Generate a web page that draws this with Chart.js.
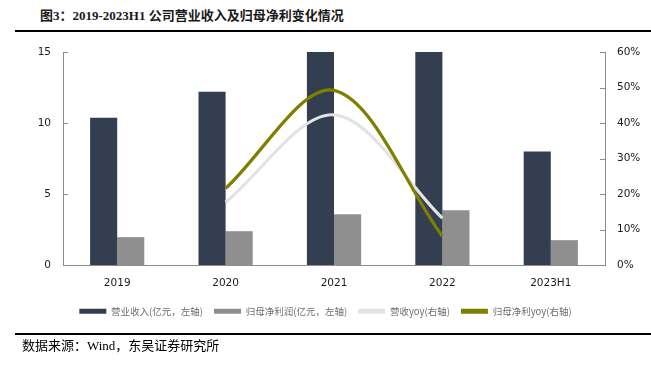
<!DOCTYPE html>
<html>
<head>
<meta charset="utf-8">
<script src="https://cdn.jsdelivr.net/npm/chart.js@4"></script>
<style>
  html, body { margin: 0; padding: 0; background: #fff; }
  #wrap { position: relative; width: 651px; height: 371px; overflow: hidden; }
  #title { position: absolute; left: 40px; top: 5px; font: bold 13px "Liberation Serif", "Noto Sans CJK SC", serif; color: #1a1a1a; white-space: nowrap; }
  #line1 { position: absolute; left: 15px; right: 0; top: 30px; height: 2px; background: #000; }
  #line2 { position: absolute; left: 15px; right: 0; top: 333px; height: 2px; background: #000; }
  #foot { position: absolute; left: 22px; top: 335px; font: 13px "Liberation Serif", "Noto Sans CJK SC", serif; color: #000; white-space: nowrap; }
  canvas { position: absolute; left: 0; top: 0; }
</style>
</head>
<body>
<div id="wrap">
  <div id="title">图3：2019-2023H1 公司营业收入及归母净利变化情况</div>
  <div id="line1"></div>
  <canvas id="c" width="651" height="371"></canvas>
  <div id="line2"></div>
  <div id="foot">数据来源：Wind，东吴证券研究所</div>
</div>
<script>
const categories = ['2019', '2020', '2021', '2022', '2023H1'];
const revenue = [10.37, 12.2, 17.3, 19.6, 7.99];
const netProfit = [1.96, 2.38, 3.57, 3.85, 1.75];
const revenueYoy = [null, 17.7, 42.3, 13.2, null];
const netProfitYoy = [null, 21.6, 49.2, 8.1, null];
const leftTicks = [0, 5, 10, 15];
const rightTicks = [0, 10, 20, 30, 40, 50, 60];
const seriesNames = ['营业收入(亿元，左轴)', '归母净利润(亿元，左轴)', '营收yoy(右轴)', '归母净利yoy(右轴)'];

const axisColor = '#8c8c8c';
const tickFont = { family: '"DejaVu Sans", sans-serif', size: 10.5 };

const innerTicks = {
  id: 'innerTicks',
  afterDraw(chart) {
    const ctx = chart.ctx;
    ctx.save();
    ctx.strokeStyle = axisColor;
    ctx.lineWidth = 1;
    [['y', leftTicks, 1], ['y1', rightTicks, -1]].forEach(([id, vals, dir]) => {
      const s = chart.scales[id];
      const x = id === 'y' ? s.right : s.left;
      vals.forEach(v => {
        const y = Math.round(s.getPixelForValue(v)) + 0.5;
        ctx.beginPath();
        ctx.moveTo(x, y);
        ctx.lineTo(x + dir * 5, y);
        ctx.stroke();
      });
    });
    ctx.restore();
  }
};

new Chart(document.getElementById('c'), {
  data: {
    labels: categories,
    datasets: [
      { type: 'bar', label: seriesNames[0], data: revenue, backgroundColor: '#333f50', yAxisID: 'y', order: 2, categoryPercentage: 0.5, barPercentage: 1.0 },
      { type: 'bar', label: seriesNames[1], data: netProfit, backgroundColor: '#8f8f8f', yAxisID: 'y', order: 2, categoryPercentage: 0.5, barPercentage: 1.0 },
      { type: 'line', label: seriesNames[2], data: revenueYoy, borderColor: '#e3e3e3', backgroundColor: '#e3e3e3', borderWidth: 3.2, pointRadius: 0, tension: 0.33, yAxisID: 'y1', order: 1 },
      { type: 'line', label: seriesNames[3], data: netProfitYoy, borderColor: '#7f7f00', backgroundColor: '#7f7f00', borderWidth: 3.2, pointRadius: 0, tension: 0.33, yAxisID: 'y1', order: 0 }
    ]
  },
  options: {
    responsive: false,
    animation: false,
    layout: { padding: { top: 52, left: 0, right: 0, bottom: 45 } },
    scales: {
      x: {
        grid: { display: false, drawTicks: false },
        border: { display: true, color: axisColor, width: 1 },
        ticks: { font: tickFont, color: '#1a1a1a', padding: 12 },
        afterFit(s) { s.height = 30.5; }
      },
      y: {
        position: 'left', min: 0, max: 15,
        afterBuildTicks(s) { s.ticks = leftTicks.map(v => ({ value: v })); },
        grid: { display: false, drawTicks: false },
        border: { display: true, color: axisColor, width: 1 },
        ticks: { font: tickFont, color: '#1a1a1a', padding: 12 },
        afterFit(s) { s.width = 63; }
      },
      y1: {
        position: 'right', min: 0, max: 60,
        afterBuildTicks(s) { s.ticks = rightTicks.map(v => ({ value: v })); },
        grid: { display: false, drawTicks: false },
        border: { display: true, color: axisColor, width: 1 },
        ticks: { font: tickFont, color: '#1a1a1a', padding: 12, callback: v => v + '%' },
        afterFit(s) { s.width = 46; }
      }
    },
    plugins: {
      tooltip: { enabled: false },
      legend: {
        position: 'bottom',
        labels: {
          boxWidth: 27, boxHeight: 5, padding: 11,
          color: '#6e6e6e',
          font: { family: '"Noto Sans CJK SC", sans-serif', size: 9.5 },
          sort: (a, b) => a.datasetIndex - b.datasetIndex,
          generateLabels(chart) {
            const items = Chart.defaults.plugins.legend.labels.generateLabels(chart);
            items.forEach(i => { i.lineWidth = 0; i.strokeStyle = 'rgba(0,0,0,0)'; });
            return items;
          }
        }
      }
    }
  },
  plugins: [innerTicks]
});
</script>
</body>
</html>
